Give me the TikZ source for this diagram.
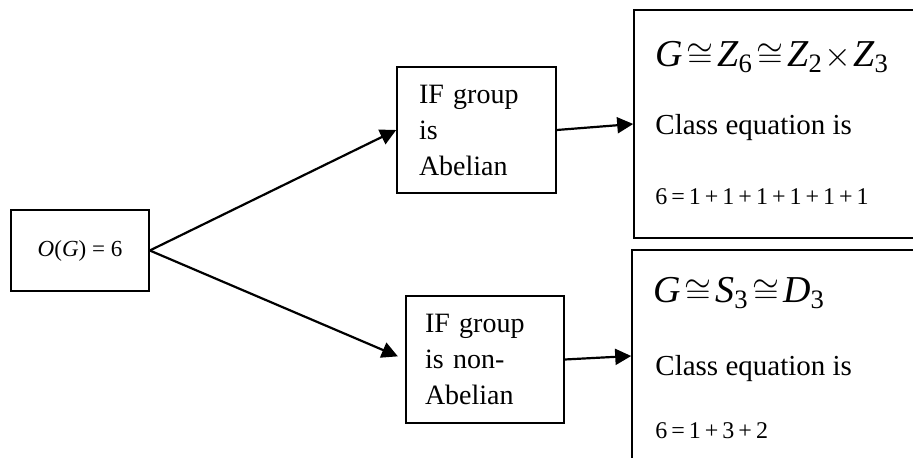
\documentclass[tikz,border=0pt]{standalone}
\usepackage{fontspec}
\setmainfont{Liberation Serif}
\setmathrm{Liberation Serif}
\usetikzlibrary{arrows.meta}

\tikzset{
  box/.style={draw, line width=0.8pt},
  txt/.style={anchor=base west, inner sep=0pt},
  arr/.style={-{Triangle[length=8pt,width=8pt]}, line width=1.1pt},
}
\newcommand{\iv}[1]{\textit{#1}}

\begin{document}
\begin{tikzpicture}[x=0.5pt,y=-0.5pt]
   \useasboundingbox (0,0) rectangle (913,458);
   \clip (0,0) rectangle (913,458);

   \node[box, minimum width=69pt, minimum height=40.5pt, font=\fontsize{11.5}{14}\selectfont] (ord) at (80,250.5) {\iv{O}(\iv{G}) = 6};
   \node[box, text width=57.5pt, inner xsep=11pt, minimum height=63pt, align=left, font=\fontsize{14}{18}\selectfont] (abel) at (476.5,130) {IF group\\ is\\ Abelian};
   \node[box, text width=60pt, inner xsep=9.5pt, minimum height=63.5pt, align=left, font=\fontsize{14}{18}\selectfont] (nonabel) at (485,359.5) {IF group\\ is non-\\ Abelian};
   \node[box, minimum width=163pt, minimum height=114pt] (cyc) at (797,124) {};
   \node[box, minimum width=164pt, minimum height=106pt] (sym) at (796,356) {};

   % text in the right boxes
   \node[txt, font={\fontsize{19}{24}\selectfont\thickmuskip=2mu\medmuskip=1mu}] (cyceq) at (655,67) {$\iv{G}\cong\iv{Z}_{\mathrm{6}}\cong\iv{Z}_{\mathrm{2}}\times\iv{Z}_{\mathrm{3}}$};
   \node[txt, font=\fontsize{14.5}{17}\selectfont] (cyccl) at (655,135) {Class equation is};
   \node[txt, font=\fontsize{12}{14}\selectfont] (cycsum) at (655,205) {6\,=\,1\,+\,1\,+\,1\,+\,1\,+\,1\,+\,1};
   \node[txt, font={\fontsize{19}{24}\selectfont\thickmuskip=2mu\medmuskip=1mu}] (symeq) at (653,303) {$\iv{G}\cong\iv{S}_{\mathrm{3}}\cong\iv{D}_{\mathrm{3}}$};
   \node[txt, font=\fontsize{14.5}{17}\selectfont] (symcl) at (655,375) {Class equation is};
   \node[txt, font=\fontsize{12}{14}\selectfont] (symsum) at (655,438) {6\,=\,1\,+\,3\,+\,2};

   \draw[arr] (ord.east) -- (abel.west);
   \draw[arr, shorten >=4pt] (ord.east) -- (nonabel.west);
   \draw[arr] (abel.east) -- (cyc.west);
   \draw[arr] (nonabel.east) -- (sym.west);

\end{tikzpicture}
\end{document}
